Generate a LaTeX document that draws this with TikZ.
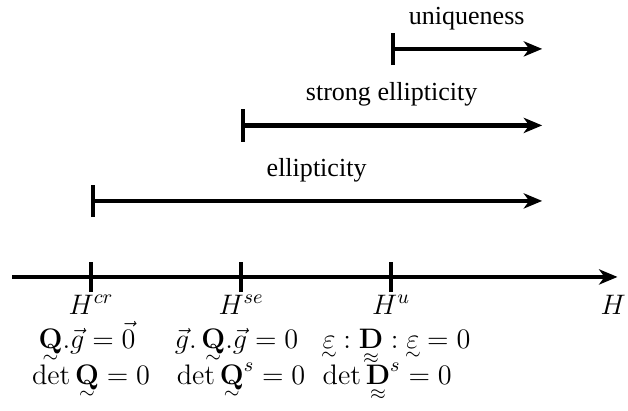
\RequirePackage{fix-cm}
\documentclass[tikz,border=0pt,12pt]{standalone}
\usepackage{amsmath}
\usepackage[no-math]{fontspec}
\setmainfont{Liberation Serif}
\usetikzlibrary{arrows.meta,positioning}
% symbol set close under a letter
\newcommand{\undersym}[3]{\mathord{\ooalign{$#3$\cr\hidewidth\raisebox{-#1}{$\scriptstyle#2$}\hidewidth\cr}}}
\newcommand{\tQ}{\undersym{6.5pt}{\sim}{\mathbf{Q}}}
\newcommand{\tD}{\undersym{7pt}{\approx}{\mathbf{D}}}
\newcommand{\teps}{\undersym{5.5pt}{\sim}{\varepsilon}}
\tikzset{
  mainaxis/.style={line width=2pt, -{Stealth[length=8.5pt,width=7pt,inset=2.5pt]}},
  rangebar/.style={line width=2pt, {Bar[width=15pt]}-{Stealth[length=8.5pt,width=7pt,inset=2.5pt]}},
  lbl/.style={anchor=base, inner sep=0pt},
  mathlbl/.style={lbl, font=\fontsize{13}{15}\selectfont},
}
\begin{document}
\begin{tikzpicture}
    \useasboundingbox (0,0) rectangle (10.17,6.64);
    % axis
    \coordinate (start) at (0.2,2.155);
    \coordinate (end) at (10.0,2.155);
    \draw[mainaxis] (start) -- (end);
    \foreach \n/\x in {cr/1.474,se/3.904,u/6.334} {
    \coordinate (\n) at (\x,2.155);
    \draw[line width=2pt] ([yshift=-0.243cm]\n) -- ([yshift=0.243cm]\n);
    \node[mathlbl] (H\n) at (\x,1.555) {$H^{\n}$};
    }
    \node[mathlbl] (H) at (9.93,1.555) {$H$};
    % conditions
    \node[mathlbl] (qcr) at (1.41,1.004) {$\tQ.\vec{g}=\vec{0}$};
    \node[mathlbl] (dcr) at (1.474,0.421) {$\det\tQ=0$};
    \node[mathlbl] (qse) at (3.83,1.004) {$\vec{g}.\,\tQ.\vec{g}=0$};
    \node[mathlbl] (dse) at (3.904,0.421) {$\det\tQ^s=0$};
    \node[mathlbl] (qu) at (6.42,1.004) {$\teps:\tD:\teps=0$};
    \node[mathlbl] (du) at (6.27,0.421) {$\det\tD^s=0$};
    % ranges
    \coordinate (e0) at (1.474,3.386);
    \coordinate (e1) at (8.78,3.386);
    \draw[rangebar] (e0) -- (e1) node[midway, lbl, yshift=0.397cm] (lell) {ellipticity};
    \coordinate (s0) at (3.904,4.609);
    \coordinate (s1) at (8.78,4.609);
    \draw[rangebar] (s0) -- (s1) node[midway, lbl, yshift=0.397cm] (lstr) {strong ellipticity};
    \coordinate (u0) at (6.334,5.848);
    \coordinate (u1) at (8.78,5.848);
    \draw[rangebar] (u0) -- (u1) node[midway, lbl, yshift=0.397cm] (luni) {uniqueness};
\end{tikzpicture}
\end{document}
